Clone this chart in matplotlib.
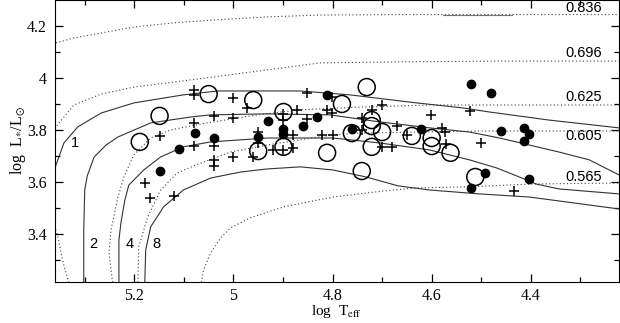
import matplotlib
matplotlib.use('Agg')
import matplotlib.pyplot as plt

plt.rcParams['font.family'] = 'Liberation Serif'
plt.rcParams['mathtext.fontset'] = 'stix'

# post-AGB tracks (dotted), log Teff / log L
trk_836_t = [5.378, 5.358, 5.322, 5.267, 5.201, 5.121, 5.040, 4.932, 4.825, 4.664, 4.463, 4.222]
trk_836_l = [4.119, 4.135, 4.154, 4.173, 4.196, 4.212, 4.223, 4.235, 4.242, 4.244, 4.244, 4.244]
trk_696_t = [5.330, 5.344, 5.354, 5.378, 5.384, 5.372, 5.358, 5.322, 5.267, 5.201, 5.133, 5.040, 4.932, 4.825, 4.664, 4.463, 4.222]
trk_696_l = [3.200, 3.292, 3.388, 3.531, 3.685, 3.781, 3.812, 3.896, 3.938, 3.965, 3.981, 4.004, 4.031, 4.058, 4.062, 4.065, 4.065]
trk_625_t = [5.243, 5.251, 5.247, 5.233, 5.221, 5.201, 5.167, 5.127, 5.066, 4.966, 4.871, 4.745, 4.604, 4.222]
trk_625_l = [3.200, 3.327, 3.415, 3.542, 3.619, 3.704, 3.769, 3.800, 3.823, 3.854, 3.877, 3.888, 3.896, 3.896]
trk_605_t = [5.193, 5.191, 5.173, 5.147, 5.113, 5.076, 5.006, 4.932, 4.865, 4.799, 4.745, 4.624, 4.483, 4.222]
trk_605_l = [3.200, 3.350, 3.465, 3.569, 3.635, 3.665, 3.715, 3.742, 3.762, 3.781, 3.788, 3.792, 3.796, 3.796]
trk_565_t = [5.066, 5.060, 5.046, 5.026, 5.006, 4.966, 4.899, 4.799, 4.698, 4.630, 4.530, 4.397, 4.222]
trk_565_l = [3.200, 3.262, 3.327, 3.385, 3.423, 3.462, 3.504, 3.542, 3.565, 3.577, 3.581, 3.592, 3.596]
seg_t = [4.578, 4.437]
seg_l = [4.243, 4.243]

# solid curves labelled 1, 2, 4, 8
c1_t = [5.378, 5.358, 5.342, 5.314, 5.267, 5.201, 5.101, 5.032, 4.865, 4.765, 4.630, 4.538, 4.483, 4.363, 4.222]
c1_l = [3.569, 3.665, 3.750, 3.812, 3.865, 3.904, 3.935, 3.950, 3.950, 3.935, 3.904, 3.885, 3.869, 3.838, 3.808]
c2_t = [5.302, 5.302, 5.300, 5.295, 5.281, 5.257, 5.233, 5.167, 5.086, 5.046, 4.932, 4.805, 4.705, 4.604, 4.524, 4.463, 4.403, 4.343, 4.282, 4.222]
c2_l = [3.200, 3.415, 3.569, 3.623, 3.696, 3.742, 3.773, 3.827, 3.850, 3.858, 3.862, 3.858, 3.831, 3.808, 3.792, 3.769, 3.742, 3.715, 3.685, 3.627]
c4_t = [5.231, 5.231, 5.227, 5.219, 5.211, 5.181, 5.147, 5.101, 5.046, 4.932, 4.799, 4.705, 4.604, 4.524, 4.469, 4.423, 4.389, 4.343, 4.222]
c4_l = [3.200, 3.377, 3.442, 3.531, 3.588, 3.646, 3.696, 3.735, 3.754, 3.769, 3.769, 3.750, 3.723, 3.685, 3.654, 3.619, 3.592, 3.573, 3.554]
c8_t = [5.179, 5.177, 5.167, 5.141, 5.101, 5.046, 4.986, 4.932, 4.865, 4.799, 4.732, 4.668, 4.604, 4.504, 4.403, 4.222]
c8_l = [3.200, 3.338, 3.427, 3.504, 3.569, 3.615, 3.638, 3.650, 3.658, 3.646, 3.619, 3.585, 3.569, 3.554, 3.542, 3.496]

# objects
circ_t = [5.189, 5.149, 5.050, 4.960, 4.899, 4.899, 4.950, 4.811, 4.781, 4.731, 4.721, 4.721,
          4.700, 4.761, 4.721, 4.741, 4.640, 4.600, 4.600, 4.562, 4.512]
circ_l = [3.754, 3.854, 3.938, 3.915, 3.869, 3.735, 3.719, 3.712, 3.900, 3.965, 3.838, 3.815,
          3.792, 3.788, 3.735, 3.642, 3.777, 3.769, 3.738, 3.712, 3.619]
dot_t = [5.149, 5.109, 5.078, 5.040, 4.950, 4.930, 4.899, 4.899, 4.859, 4.831, 4.811, 4.761,
         4.622, 4.520, 4.481, 4.461, 4.413, 4.403, 4.413, 4.493, 4.520, 4.403]
dot_l = [3.642, 3.727, 3.788, 3.769, 3.773, 3.835, 3.804, 3.785, 3.815, 3.850, 3.935, 3.804,
         3.804, 3.977, 3.942, 3.796, 3.808, 3.785, 3.758, 3.635, 3.577, 3.612]
plus_t = [5.080, 5.080, 5.000, 4.972, 5.040, 5.000, 5.080, 5.149, 5.080, 5.040, 5.040, 5.040,
          5.000, 4.960, 4.950, 4.950, 4.899, 4.899, 4.871, 4.879, 4.851, 4.851, 4.811, 4.801,
          4.821, 4.799, 4.920, 4.899, 4.879, 4.801, 4.741, 4.721, 4.700, 4.602, 4.522, 4.670,
          4.741, 4.580, 4.574, 4.650, 4.700, 4.680, 4.572, 4.501, 4.433, 5.179, 5.169, 5.119]
plus_l = [3.954, 3.935, 3.923, 3.885, 3.854, 3.846, 3.827, 3.777, 3.738, 3.738, 3.685, 3.662,
          3.696, 3.696, 3.792, 3.750, 3.862, 3.838, 3.877, 3.781, 3.942, 3.842, 3.877, 3.865,
          3.781, 3.781, 3.723, 3.723, 3.731, 3.927, 3.846, 3.877, 3.896, 3.858, 3.873, 3.815,
          3.800, 3.808, 3.792, 3.781, 3.735, 3.735, 3.746, 3.750, 3.565, 3.596, 3.538, 3.546]

mass_labels = ['0.836', '0.696', '0.625', '0.605', '0.565']
mass_label_l = [4.270, 4.096, 3.927, 3.777, 3.619]
age_labels = ['1', '2', '4', '8']
age_label_t = [5.320, 5.283, 5.209, 5.155]
age_label_l = [3.750, 3.362, 3.362, 3.362]

fig = plt.figure(figsize=(6.2, 3.23), dpi=100)
ax = fig.add_axes([55 / 620, 41 / 323, 564 / 620, 282 / 323])

dot_style = dict(color='0.25', lw=0.8, ls=(0, (1, 2.2)))
for t, l in [(trk_836_t, trk_836_l), (trk_696_t, trk_696_l), (trk_625_t, trk_625_l),
             (trk_605_t, trk_605_l), (trk_565_t, trk_565_l)]:
    ax.plot(t, l, **dot_style)
ax.plot(seg_t, seg_l, color='0.45', lw=0.8)

for t, l in [(c1_t, c1_l), (c2_t, c2_l), (c4_t, c4_l), (c8_t, c8_l)]:
    ax.plot(t, l, color='0.2', lw=0.8)

ax.scatter(circ_t, circ_l, s=150, facecolors='none', edgecolors='black', linewidths=1.1, zorder=3)
ax.scatter(dot_t, dot_l, s=36, color='black', zorder=4)
ax.scatter(plus_t, plus_l, s=55, marker='+', color='black', linewidths=1.1, zorder=4)

for lab, l in zip(mass_labels, mass_label_l):
    ax.text(4.256, l, lab, ha='right', va='center', fontsize=10.5, family='Liberation Sans')
for lab, t, l in zip(age_labels, age_label_t, age_label_l):
    ax.text(t, l, lab, ha='center', va='center', fontsize=10.5, family='Liberation Sans')

ax.set_xlim(5.36, 4.222)
ax.set_ylim(3.215, 4.3)
ax.set_xticks([5.2, 5.0, 4.8, 4.6, 4.4])
ax.set_xticklabels(['5.2', '5', '4.8', '4.6', '4.4'])
ax.set_xticks([5.3, 5.1, 4.9, 4.7, 4.5, 4.3], minor=True)
ax.set_yticks([3.4, 3.6, 3.8, 4.0, 4.2])
ax.set_yticklabels(['3.4', '3.6', '3.8', '4', '4.2'])
ax.set_yticks([3.3, 3.5, 3.7, 3.9, 4.1], minor=True)
ax.tick_params(which='both', direction='in', top=True, right=True, labelsize=11.5, pad=6)
ax.tick_params(axis='x', which='both', pad=4)
ax.tick_params(which='major', length=6, width=0.9)
ax.tick_params(which='minor', length=3.5, width=0.9)

fig.text(337 / 620, 1 - 311 / 323, r'log  T$_{\rm eff}$', ha='center', va='center', fontsize=11)
fig.text(0.029, 0.565, r'log  L$_{*}$/L$_{\odot}$', rotation=90, ha='center', va='center', fontsize=11.5)

fig.savefig('out.png', dpi=100)
